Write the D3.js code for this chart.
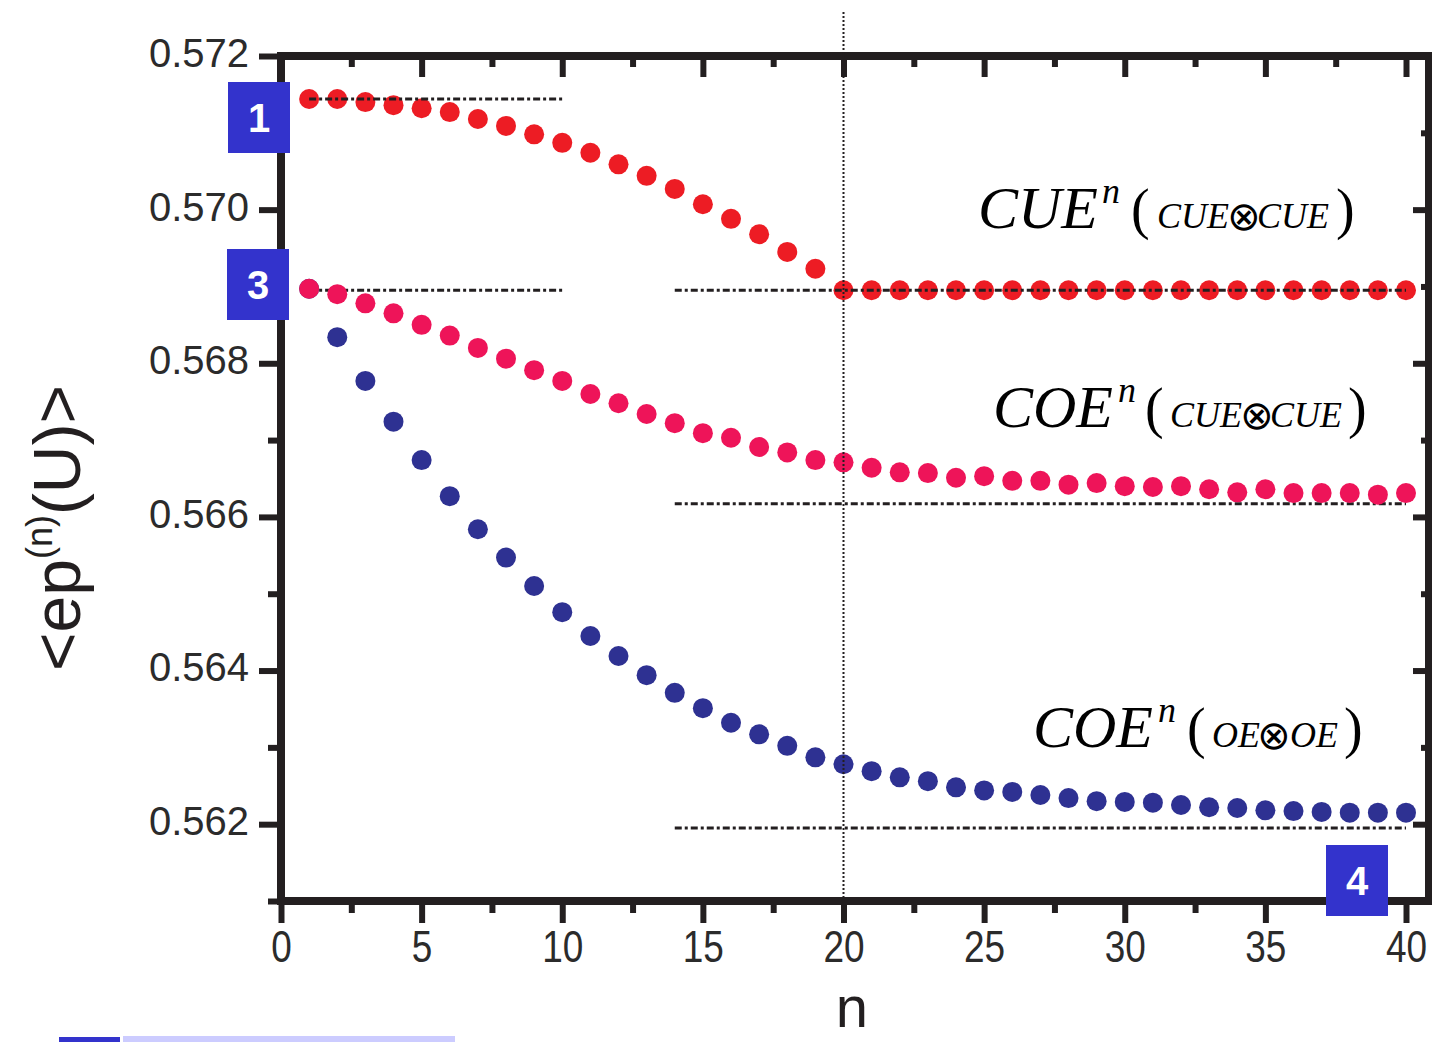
<!DOCTYPE html>
<html>
<head>
<meta charset="utf-8">
<script src="https://cdn.jsdelivr.net/npm/d3@7"></script>
<style>
  body { margin: 0; background: #fff; }
  svg { display: block; }
</style>
</head>
<body>
<div id="chart"></div>
<script>
// data
const nValues = [1, 2, 3, 4, 5, 6, 7, 8, 9, 10, 11, 12, 13, 14, 15, 16, 17, 18, 19, 20,
  21, 22, 23, 24, 25, 26, 27, 28, 29, 30, 31, 32, 33, 34, 35, 36, 37, 38, 39, 40];

const cueCue = [0.57144, 0.57144, 0.57140, 0.57136, 0.57132, 0.57127, 0.57118, 0.57109, 0.57098, 0.57087,
  0.57074, 0.57059, 0.57044, 0.57027, 0.57007, 0.56988, 0.56968, 0.56945, 0.56923, 0.56895,
  0.56895, 0.56895, 0.56895, 0.56895, 0.56895, 0.56895, 0.56895, 0.56895, 0.56895, 0.56895,
  0.56895, 0.56895, 0.56895, 0.56895, 0.56895, 0.56895, 0.56895, 0.56895, 0.56895, 0.56895];

const coeCue = [0.56897, 0.56890, 0.56878, 0.56865, 0.56850, 0.56836, 0.56820, 0.56806, 0.56791, 0.56777,
  0.56760, 0.56748, 0.56734, 0.56722, 0.56709, 0.56703, 0.56691, 0.56684, 0.56674, 0.56671,
  0.56664, 0.56658, 0.56657, 0.56651, 0.56653, 0.56647, 0.56647, 0.56642, 0.56644, 0.56640,
  0.56639, 0.56640, 0.56636, 0.56632, 0.56636, 0.56631, 0.56631, 0.56631, 0.56629, 0.56631];

const coeOe = [0.56897, 0.56834, 0.56777, 0.56724, 0.56674, 0.56627, 0.56584, 0.56547, 0.56510, 0.56476,
  0.56445, 0.56419, 0.56394, 0.56371, 0.56351, 0.56332, 0.56317, 0.56302, 0.56287, 0.56278,
  0.56269, 0.56261, 0.56256, 0.56248, 0.56244, 0.56242, 0.56238, 0.56234, 0.56230, 0.56229,
  0.56228, 0.56225, 0.56222, 0.56221, 0.56218, 0.56217, 0.56216, 0.56215, 0.56215, 0.56215];

// dash-dot limit lines: value, n from, n to
const limitValues = [0.57144, 0.56895, 0.56895, 0.56617, 0.56195];
const limitFrom = [1, 1, 14, 14, 14];
const limitTo = [10, 10, 40, 40, 40];

const markerN = 20;

const xMajorTicks = [0, 5, 10, 15, 20, 25, 30, 35, 40];
const xMinorTicks = [2.5, 7.5, 12.5, 17.5, 22.5, 27.5, 32.5, 37.5];
const yMajorTicks = [0.562, 0.564, 0.566, 0.568, 0.570, 0.572];
const yMinorTicks = [0.561, 0.563, 0.565, 0.567, 0.569, 0.571];

const width = 1432, height = 1042;
const axisColor = "#231f20";

const svg = d3.select("#chart").append("svg")
    .attr("width", width)
    .attr("height", height);

const x = d3.scaleLinear().domain([0, 40]).range([281, 1406]);
const y = d3.scaleLinear().domain([0.561, 0.572]).range([901, 56]);

const frameLeft = 281, frameRight = 1429, frameTop = 56, frameBottom = 901;

function styleAxis(g) {
    g.select(".domain").remove();
    g.selectAll(".tick line").attr("stroke", axisColor).attr("stroke-width", 6);
}

// bottom axis with labels
const bottomAxis = svg.append("g")
    .attr("transform", "translate(0," + frameBottom + ")")
    .call(d3.axisBottom(x).tickValues(xMajorTicks).tickSize(22).tickPadding(8).tickFormat(d3.format("d")));
styleAxis(bottomAxis);
bottomAxis.selectAll(".tick text")
    .attr("font-family", "Liberation Sans, Arial, sans-serif")
    .attr("font-size", 44)
    .attr("fill", "#2b2b2b")
    .attr("transform", "scale(0.84,1)");

svg.append("g")
    .attr("transform", "translate(0," + frameBottom + ")")
    .call(d3.axisBottom(x).tickValues(xMinorTicks).tickSize(12).tickFormat(""))
    .call(styleAxis);

// top axis, ticks pointing in
svg.append("g")
    .attr("transform", "translate(0," + frameTop + ")")
    .call(d3.axisBottom(x).tickValues(xMajorTicks).tickSize(21).tickFormat(""))
    .call(styleAxis);
svg.append("g")
    .attr("transform", "translate(0," + frameTop + ")")
    .call(d3.axisBottom(x).tickValues(xMinorTicks).tickSize(11).tickFormat(""))
    .call(styleAxis);

// left axis with labels
const leftAxis = svg.append("g")
    .attr("transform", "translate(" + frameLeft + ",0)")
    .call(d3.axisLeft(y).tickValues(yMajorTicks).tickSize(22).tickPadding(10).tickFormat(d3.format(".3f")));
styleAxis(leftAxis);
leftAxis.selectAll(".tick text")
    .attr("font-family", "Liberation Sans, Arial, sans-serif")
    .attr("font-size", 40)
    .attr("fill", "#2b2b2b")
    .attr("dy", "0.26em");

svg.append("g")
    .attr("transform", "translate(" + frameLeft + ",0)")
    .call(d3.axisLeft(y).tickValues(yMinorTicks).tickSize(13).tickFormat(""))
    .call(styleAxis);

// right axis, ticks pointing in
svg.append("g")
    .attr("transform", "translate(" + frameRight + ",0)")
    .call(d3.axisLeft(y).tickValues(yMajorTicks).tickSize(16).tickFormat(""))
    .call(styleAxis);
svg.append("g")
    .attr("transform", "translate(" + frameRight + ",0)")
    .call(d3.axisLeft(y).tickValues(yMinorTicks).tickSize(8).tickFormat(""))
    .call(styleAxis);

// frame
const frame = svg.append("g")
    .attr("stroke", axisColor)
    .attr("stroke-width", 8)
    .attr("stroke-linecap", "square");
frame.append("line").attr("x1", frameLeft).attr("x2", width).attr("y1", frameTop).attr("y2", frameTop);
frame.append("line").attr("x1", frameLeft).attr("x2", width).attr("y1", frameBottom).attr("y2", frameBottom);
frame.append("line").attr("x1", frameLeft).attr("x2", frameLeft).attr("y1", frameTop).attr("y2", frameBottom);
frame.append("line").attr("x1", frameRight).attr("x2", frameRight).attr("y1", frameTop).attr("y2", frameBottom);

function drawDots(values, color) {
    svg.append("g")
        .selectAll("circle")
        .data(values)
        .join("circle")
        .attr("cx", (d, i) => x(nValues[i]))
        .attr("cy", d => y(d))
        .attr("r", 10)
        .attr("fill", color);
}

drawDots(cueCue, "#ed1c24");

// dash-dot limit lines
svg.append("g")
    .selectAll("line")
    .data(limitValues)
    .join("line")
    .attr("x1", (d, i) => x(limitFrom[i]))
    .attr("x2", (d, i) => x(limitTo[i]))
    .attr("y1", d => y(d))
    .attr("y2", d => y(d))
    .attr("stroke", axisColor)
    .attr("stroke-width", 3)
    .attr("stroke-dasharray", "7,3,3,3");

drawDots(coeOe, "#2e3192");
drawDots(coeCue, "#ee1459");

// vertical dotted marker at n = 20
svg.append("line")
    .attr("x1", x(markerN)).attr("x2", x(markerN))
    .attr("y1", 12).attr("y2", frameBottom)
    .attr("stroke", axisColor)
    .attr("stroke-width", 2)
    .attr("stroke-dasharray", "2,2");

// curve labels
const serif = "Liberation Serif, Times New Roman, serif";
function curveLabel(x0, base, main, xSup, xOpen, innerA, xA, xOtimes, innerB, xB, xClose) {
    const t = svg.append("text")
        .attr("font-family", serif)
        .attr("fill", "#000");
    t.append("tspan").attr("x", x0).attr("y", base)
        .attr("font-size", 60).attr("font-style", "italic").text(main);
    t.append("tspan").attr("x", xSup).attr("y", base - 25)
        .attr("font-size", 36).attr("font-style", "italic").text("n");
    t.append("tspan").attr("x", xOpen).attr("y", base)
        .attr("font-size", 56).text("(");
    t.append("tspan").attr("x", xA).attr("y", base)
        .attr("font-size", 36).attr("font-style", "italic").text(innerA);
    t.append("tspan").attr("x", xOtimes).attr("y", base + 2)
        .attr("font-family", "DejaVu Sans, sans-serif")
        .attr("font-size", 40).text("⊗");
    t.append("tspan").attr("x", xB).attr("y", base)
        .attr("font-size", 36).attr("font-style", "italic").text(innerB);
    t.append("tspan").attr("x", xClose).attr("y", base)
        .attr("font-size", 56).text(")");
}
curveLabel(978, 228, "CUE", 1102, 1131, "CUE", 1157, 1227, "CUE", 1257, 1336);
curveLabel(993, 427, "COE", 1118, 1145, "CUE", 1170, 1240, "CUE", 1270, 1348);
curveLabel(1033, 747, "COE", 1158, 1187, "OE", 1212, 1257, "OE", 1290, 1344);

// axis titles
const yTitle = svg.append("text")
    .attr("transform", "translate(80,528) rotate(-90)")
    .attr("text-anchor", "middle")
    .attr("font-family", "Liberation Sans, Arial, sans-serif")
    .attr("font-size", 66)
    .attr("fill", "#231f20");
yTitle.append("tspan").text("<ep");
yTitle.append("tspan").attr("font-size", 36).attr("dy", -28).text("(n)");
yTitle.append("tspan").attr("dy", 28).text("(U)>");

svg.append("text")
    .attr("x", 852).attr("y", 1027)
    .attr("text-anchor", "middle")
    .attr("font-family", "Liberation Sans, Arial, sans-serif")
    .attr("font-size", 58)
    .attr("fill", "#231f20")
    .text("n");

// numbered panel badges
const badgeLabels = ["1", "3", "4"];
const badgeX = [228, 227, 1326];
const badgeY = [82, 249, 845];
const badges = svg.append("g")
    .selectAll("g")
    .data(badgeLabels)
    .join("g")
    .attr("transform", (d, i) => "translate(" + badgeX[i] + "," + badgeY[i] + ")");
badges.append("rect")
    .attr("width", 62).attr("height", 71)
    .attr("fill", "#3333cc");
badges.append("text")
    .attr("x", 31).attr("y", 36)
    .attr("dy", "0.36em")
    .attr("text-anchor", "middle")
    .attr("font-family", "Liberation Sans, Arial, sans-serif")
    .attr("font-weight", "bold")
    .attr("font-size", 40)
    .attr("fill", "#fff")
    .text(d => d);

// strip at bottom left
svg.append("rect").attr("x", 59).attr("y", 1037).attr("width", 61).attr("height", 5).attr("fill", "#3333cc");
svg.append("rect").attr("x", 123).attr("y", 1036).attr("width", 332).attr("height", 6).attr("fill", "#ccccff");
</script>
</body>
</html>
